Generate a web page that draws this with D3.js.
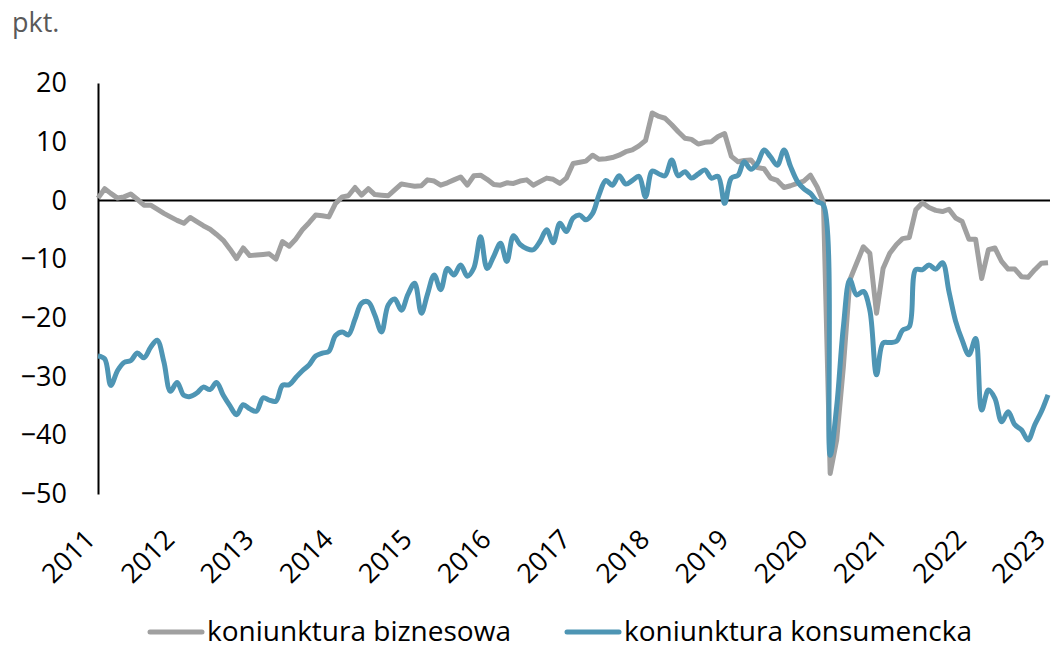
<!DOCTYPE html>
<html>
<head>
<meta charset="utf-8">
<script src="https://cdn.jsdelivr.net/npm/d3@7"></script>
<style>
  body { margin: 0; background: #fff; }
  text { font-family: "Open Sans", "Noto Sans", sans-serif; }
</style>
</head>
<body>
<div id="chart"></div>
<script>
// monthly readings, Jan 2011 .. Jan 2023
const startMonth = '2011-01-01'
const business = [
  0.4, 2.0, 1.2, 0.4, 0.6, 1.1, 0.2, -0.8, -0.8, -1.5,
  -2.2, -2.8, -3.4, -3.9, -2.9, -3.6, -4.3, -4.9, -5.8, -6.8,
  -8.3, -9.9, -8.1, -9.4, -9.3, -9.2, -9.1, -10.0, -7.0, -7.8,
  -6.6, -5.0, -3.8, -2.5, -2.6, -2.8, -0.5, 0.6, 0.8, 2.2,
  0.9, 2.0, 1.0, 0.9, 0.8, 1.8, 2.8, 2.6, 2.4, 2.5,
  3.5, 3.3, 2.6, 3.0, 3.5, 4.0, 2.6, 4.2, 4.3, 3.6,
  2.7, 2.6, 3.0, 2.9, 3.3, 3.5, 2.6, 3.2, 3.8, 3.6,
  2.9, 3.8, 6.3, 6.5, 6.7, 7.7, 7.0, 7.1, 7.3, 7.7,
  8.3, 8.6, 9.3, 10.2, 14.9, 14.3, 14.0, 12.9, 11.7, 10.6,
  10.4, 9.6, 9.9, 10.0, 10.9, 11.4, 7.5, 6.6, 6.8, 6.9,
  5.6, 5.4, 3.8, 3.4, 2.2, 2.5, 2.9, 3.3, 4.3, 2.3,
  -0.3, -46.5, -40.8, -28.3, -13.5, -10.7, -7.9, -9.0, -19.2, -11.6,
  -9.0, -7.5, -6.5, -6.3, -1.6, -0.4, -1.2, -1.7, -1.9, -1.5,
  -3.0, -3.6, -6.6, -6.6, -13.3, -8.4, -8.1, -10.4, -11.7, -11.7,
  -13.0, -13.1, -11.8, -10.7, -10.6
]
const consumer = [
  -26.5, -27.0, -31.5, -29.0, -27.6, -27.3, -26.0, -26.8, -25.0, -23.8,
  -27.5, -32.5, -31.0, -33.2, -33.4, -32.8, -31.8, -32.2, -31.0, -33.2,
  -35.0, -36.5, -34.8, -35.5, -35.9, -33.6, -34.0, -34.2, -31.5, -31.4,
  -30.2, -29.0, -28.0, -26.5, -26.0, -25.7, -23.0, -22.4, -22.9, -20.2,
  -17.5, -17.3, -19.5, -22.4, -17.8, -16.8, -18.7, -16.0, -14.1, -19.2,
  -16.0, -12.7, -15.2, -11.6, -12.7, -11.0, -12.9, -11.5, -6.2, -11.6,
  -9.5, -7.3, -10.4, -6.0, -7.5, -8.2, -8.4, -7.0, -5.0, -7.2,
  -3.9, -5.3, -3.0, -2.5, -3.3, -2.2, 1.0, 3.4, 2.6, 4.2,
  2.8, 3.4, 4.1, 0.6, 5.0, 4.5, 4.2, 6.9, 4.2, 4.9,
  3.8, 4.5, 5.2, 3.8, 4.1, -0.5, 3.8, 4.3, 6.6, 5.3,
  6.3, 8.6, 7.4, 6.0, 8.6, 5.8, 3.3, 2.0, 1.2, -0.2,
  -0.8, -43.4, -35.1, -21.5, -13.5, -16.1, -15.5, -18.7, -29.7, -24.3,
  -24.2, -24.0, -22.1, -21.5, -11.8, -11.8, -11.0, -11.7, -10.6, -15.5,
  -20.6, -23.8, -26.3, -23.5, -35.7, -32.3, -33.7, -37.7, -36.0, -38.2,
  -39.1, -40.8, -38.2, -36.0, -33.1
]
const yearLabels = ['2011', '2012', '2013', '2014', '2015', '2016', '2017', '2018', '2019', '2020', '2021', '2022', '2023']
const yTicks = [20, 10, 0, -10, -20, -30, -40, -50]
const seriesNames = ['koniunktura biznesowa', 'koniunktura konsumencka']
const colors = ['#a0a0a0', '#4e95b4']

const width = 1054
const height = 649

const months = business.map((_, i) => d3.utcMonth.offset(new Date(startMonth), i))

const x = d3.scaleUtc()
  .domain([months[0], months[months.length - 1]])
  .range([98, 1048])
const y = d3.scaleLinear()
  .domain([-50, 20])
  .range([494, 83])

let svg = d3.select('#chart')
  .append('svg')
  .attr('width', width)
  .attr('height', height)

svg.append('text')
  .attr('x', 12)
  .attr('y', 32)
  .style('font-size', '27px')
  .style('fill', '#595959')
  .text('pkt.')

// y axis
const yAxis = svg.append('g')
  .attr('transform', 'translate(98,0)')
  .call(d3.axisLeft(y).tickValues(yTicks).tickSize(0).tickSizeOuter(0).tickPadding(31))
yAxis.select('.domain').attr('stroke', '#000').attr('stroke-width', 2)
yAxis.selectAll('text')
  .style('font-size', '27px')
  .style('font-family', '"Open Sans", sans-serif')
  .attr('fill', '#000')

// zero line
svg.append('line')
  .attr('x1', x.range()[0])
  .attr('x2', x.range()[1] + 2)
  .attr('y1', y(0))
  .attr('y2', y(0))
  .attr('stroke', '#000')
  .attr('stroke-width', 2)

// year labels, rotated
svg.selectAll('.year')
  .data(yearLabels)
  .enter()
  .append('text')
  .attr('class', 'year')
  .attr('transform', d => `translate(${x(new Date(d + '-01-01')) - 1},541) rotate(-45)`)
  .attr('text-anchor', 'end')
  .style('font-size', '27px')
  .text(d => d)

const grayLine = d3.line()
  .x((_, i) => x(months[i]))
  .y(d => y(d))

const blueLine = d3.line()
  .x((_, i) => x(months[i]))
  .y(d => y(d))
  .curve(d3.curveCatmullRom)

svg.append('path')
  .datum(business)
  .attr('d', grayLine)
  .attr('fill', 'none')
  .attr('stroke', colors[0])
  .attr('stroke-width', 5)
  .attr('stroke-linejoin', 'round')

svg.append('path')
  .datum(consumer)
  .attr('d', blueLine)
  .attr('fill', 'none')
  .attr('stroke', colors[1])
  .attr('stroke-width', 5)
  .attr('stroke-linejoin', 'round')

// legend
const legendX = [150, 567]
const lg = svg.selectAll('.legend')
  .data(seriesNames)
  .enter()
  .append('g')
  .attr('class', 'legend')
  .attr('transform', (_, i) => `translate(${legendX[i]},632)`)
lg.append('line')
  .attr('x1', 0)
  .attr('x2', 52)
  .attr('stroke', (_, i) => colors[i])
  .attr('stroke-width', 5)
  .attr('stroke-linecap', 'round')
lg.append('text')
  .attr('x', 57)
  .attr('y', 9)
  .style('font-size', '28px')
  .text(d => d)
</script>
</body>
</html>
